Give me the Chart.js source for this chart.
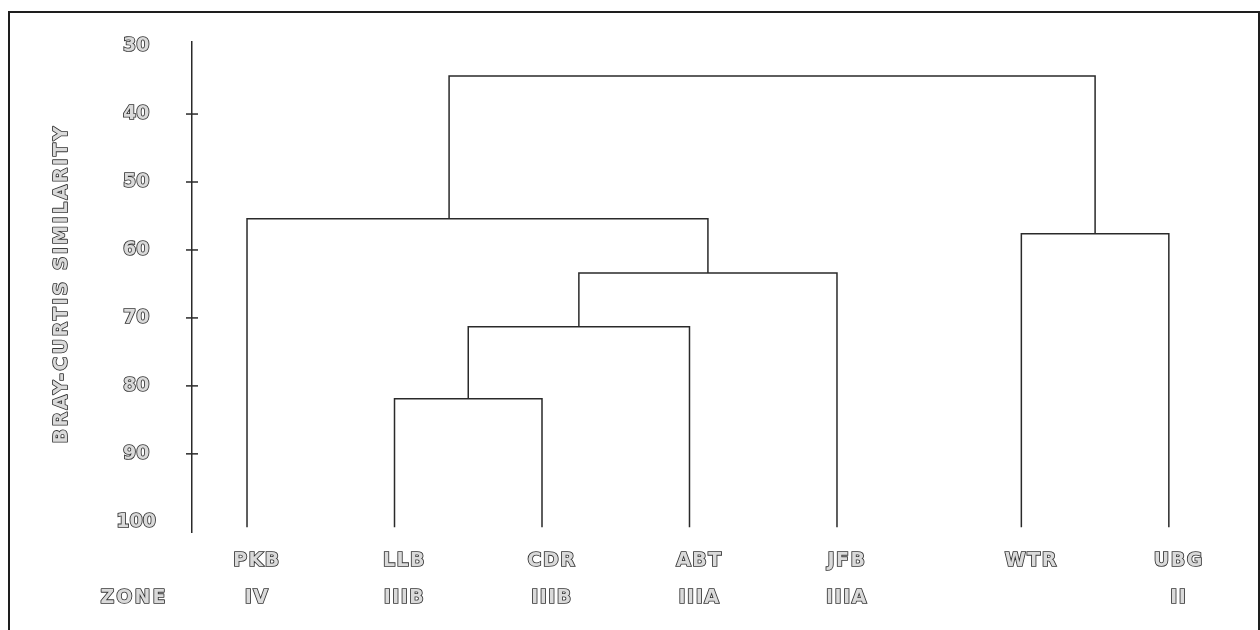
<html>
<head>
    <script src="https://cdn.jsdelivr.net/npm/chart.js@4.4.0/dist/chart.umd.min.js"></script>
    <style>
        body {
            margin: 0;
            background: #ffffff;
        }

        .wrap {
            position: relative;
            width: 1260px;
            height: 630px;
        }

        .frame {
            position: absolute;
            left: 8px;
            top: 11px;
            width: 1248px;
            height: 618px;
            border-top: 2px solid #1e1e1e;
            border-left: 2px solid #1e1e1e;
            border-right: 2px solid #1e1e1e;
            border-bottom: 1px solid #c8c8c8;
            pointer-events: none;
        }
    </style>
</head>

<body>
    <div class="wrap">
        <canvas id="dendro" width="1260" height="630"></canvas>
        <div class="frame"></div>
    </div>
</body>
<script>
    // leaves (sites) and their zones
    const leaves = ['PKB', 'LLB', 'CDR', 'ABT', 'JFB', 'WTR', 'UBG'];
    const zones = ['IV', 'IIIB', 'IIIB', 'IIIA', 'IIIA', '', 'II'];
    const leafPos = [1, 2, 3, 4, 5, 6.25, 7.25];
    const leafBase = 100.8;

    // merges: left/right x, the height each branch comes up from, and the join height
    const mergeHeight = [81.9, 71.3, 63.4, 55.4, 57.6, 34.4];
    const mergeLeftX = [2, 2.5, 3.25, 1, 6.25, 2.37];
    const mergeRightX = [3, 4, 5, 4.125, 7.25, 6.75];
    const mergeLeftFrom = [leafBase, 81.9, 71.3, leafBase, leafBase, 55.4];
    const mergeRightFrom = [leafBase, leafBase, leafBase, 63.4, leafBase, 57.6];

    const yTicks = [30, 40, 50, 60, 70, 80, 90, 100];
    const yMarks = [40, 50, 60, 70, 80, 90];

    // lettering is hollow (outlined) in the original
    const textFill = '#dadada';
    const textStroke = '#333333';
    const strokeW = 1.7;
    const lineColor = '#2a2a2a';
    const fontFamily = "'DejaVu Sans', sans-serif";
    const tickFont = { family: fontFamily, size: 19, weight: 'bold' };

    const datasets = mergeHeight.map((h, i) => ({
        data: [
            { x: mergeLeftX[i], y: mergeLeftFrom[i] },
            { x: mergeLeftX[i], y: h },
            { x: mergeRightX[i], y: h },
            { x: mergeRightX[i], y: mergeRightFrom[i] }
        ],
        borderColor: lineColor,
        borderWidth: 1.5,
        pointRadius: 0,
        tension: 0,
        fill: false
    }));

    // the old typeface is wide, so space the site letters out a little
    const spacing = {
        id: 'spacing',
        beforeDraw(chart) {
            chart.ctx.letterSpacing = '0px';
        },
        afterDatasetsDraw(chart) {
            chart.ctx.letterSpacing = '1.5px';
        }
    };

    function outlined(ctx, text, x, y) {
        ctx.strokeText(text, x, y);
        ctx.fillText(text, x, y);
    }

    const extras = {
        id: 'extras',
        afterDraw(chart) {
            const ctx = chart.ctx;
            const y = chart.scales.y;
            const area = chart.chartArea;
            ctx.save();

            // small ticks crossing the axis line
            ctx.strokeStyle = lineColor;
            ctx.lineWidth = 1.5;
            yMarks.forEach(v => {
                const py = y.getPixelForValue(v);
                ctx.beginPath();
                ctx.moveTo(area.left - 6, py);
                ctx.lineTo(area.left + 6, py);
                ctx.stroke();
            });

            ctx.fillStyle = textFill;
            ctx.strokeStyle = textStroke;
            ctx.lineWidth = strokeW;
            ctx.lineJoin = 'round';
            ctx.font = 'bold 19px ' + fontFamily;
            ctx.textAlign = 'center';
            ctx.textBaseline = 'middle';

            // axis title
            ctx.save();
            ctx.letterSpacing = '2.4px';
            ctx.translate(62, (y.getPixelForValue(30) + y.getPixelForValue(100)) / 2);
            ctx.rotate(-Math.PI / 2);
            outlined(ctx, 'BRAY-CURTIS SIMILARITY', 0, 0);
            ctx.restore();

            // row label for the zones
            ctx.letterSpacing = '2px';
            outlined(ctx, 'ZONE', 134, area.bottom + 66);

            ctx.restore();
            ctx.letterSpacing = '0px';
        }
    };

    new Chart('dendro', {
        type: 'line',
        data: { datasets: datasets },
        plugins: [spacing, extras],
        options: {
            responsive: false,
            animation: false,
            devicePixelRatio: 1,
            layout: { padding: { top: 42, right: 18, left: 0, bottom: 0 } },
            plugins: {
                legend: { display: false },
                tooltip: { enabled: false }
            },
            scales: {
                x: {
                    type: 'linear',
                    min: 0.627,
                    max: 7.746,
                    grid: { display: false, drawTicks: false },
                    border: { display: false },
                    afterBuildTicks: (scale) => {
                        scale.ticks = leafPos.map(v => ({ value: v }));
                    },
                    afterFit: (scale) => {
                        scale.height = 98;
                    },
                    ticks: {
                        z: 1,
                        autoSkip: false,
                        maxRotation: 0,
                        padding: 11,
                        labelOffset: 10,
                        color: textFill,
                        textStrokeColor: textStroke,
                        textStrokeWidth: strokeW,
                        font: { ...tickFont, lineHeight: 37 / 19 },
                        callback: (val) => {
                            const i = leafPos.indexOf(val);
                            return i < 0 ? '' : [leaves[i], zones[i]];
                        }
                    }
                },
                y: {
                    type: 'linear',
                    reverse: true,
                    min: 29.4,
                    max: 101.5,
                    grid: {
                        display: true,
                        drawOnChartArea: false,
                        drawTicks: true,
                        tickLength: 34,
                        color: 'rgba(0,0,0,0)'
                    },
                    border: { display: true, color: lineColor, width: 1.5 },
                    afterBuildTicks: (scale) => {
                        scale.ticks = yTicks.map(v => ({ value: v }));
                    },
                    afterFit: (scale) => {
                        scale.width = 192;
                    },
                    ticks: {
                        z: 0,
                        padding: 2,
                        crossAlign: 'center',
                        color: textFill,
                        textStrokeColor: textStroke,
                        textStrokeWidth: strokeW,
                        font: tickFont
                    }
                }
            }
        }
    });
</script>

</html>
